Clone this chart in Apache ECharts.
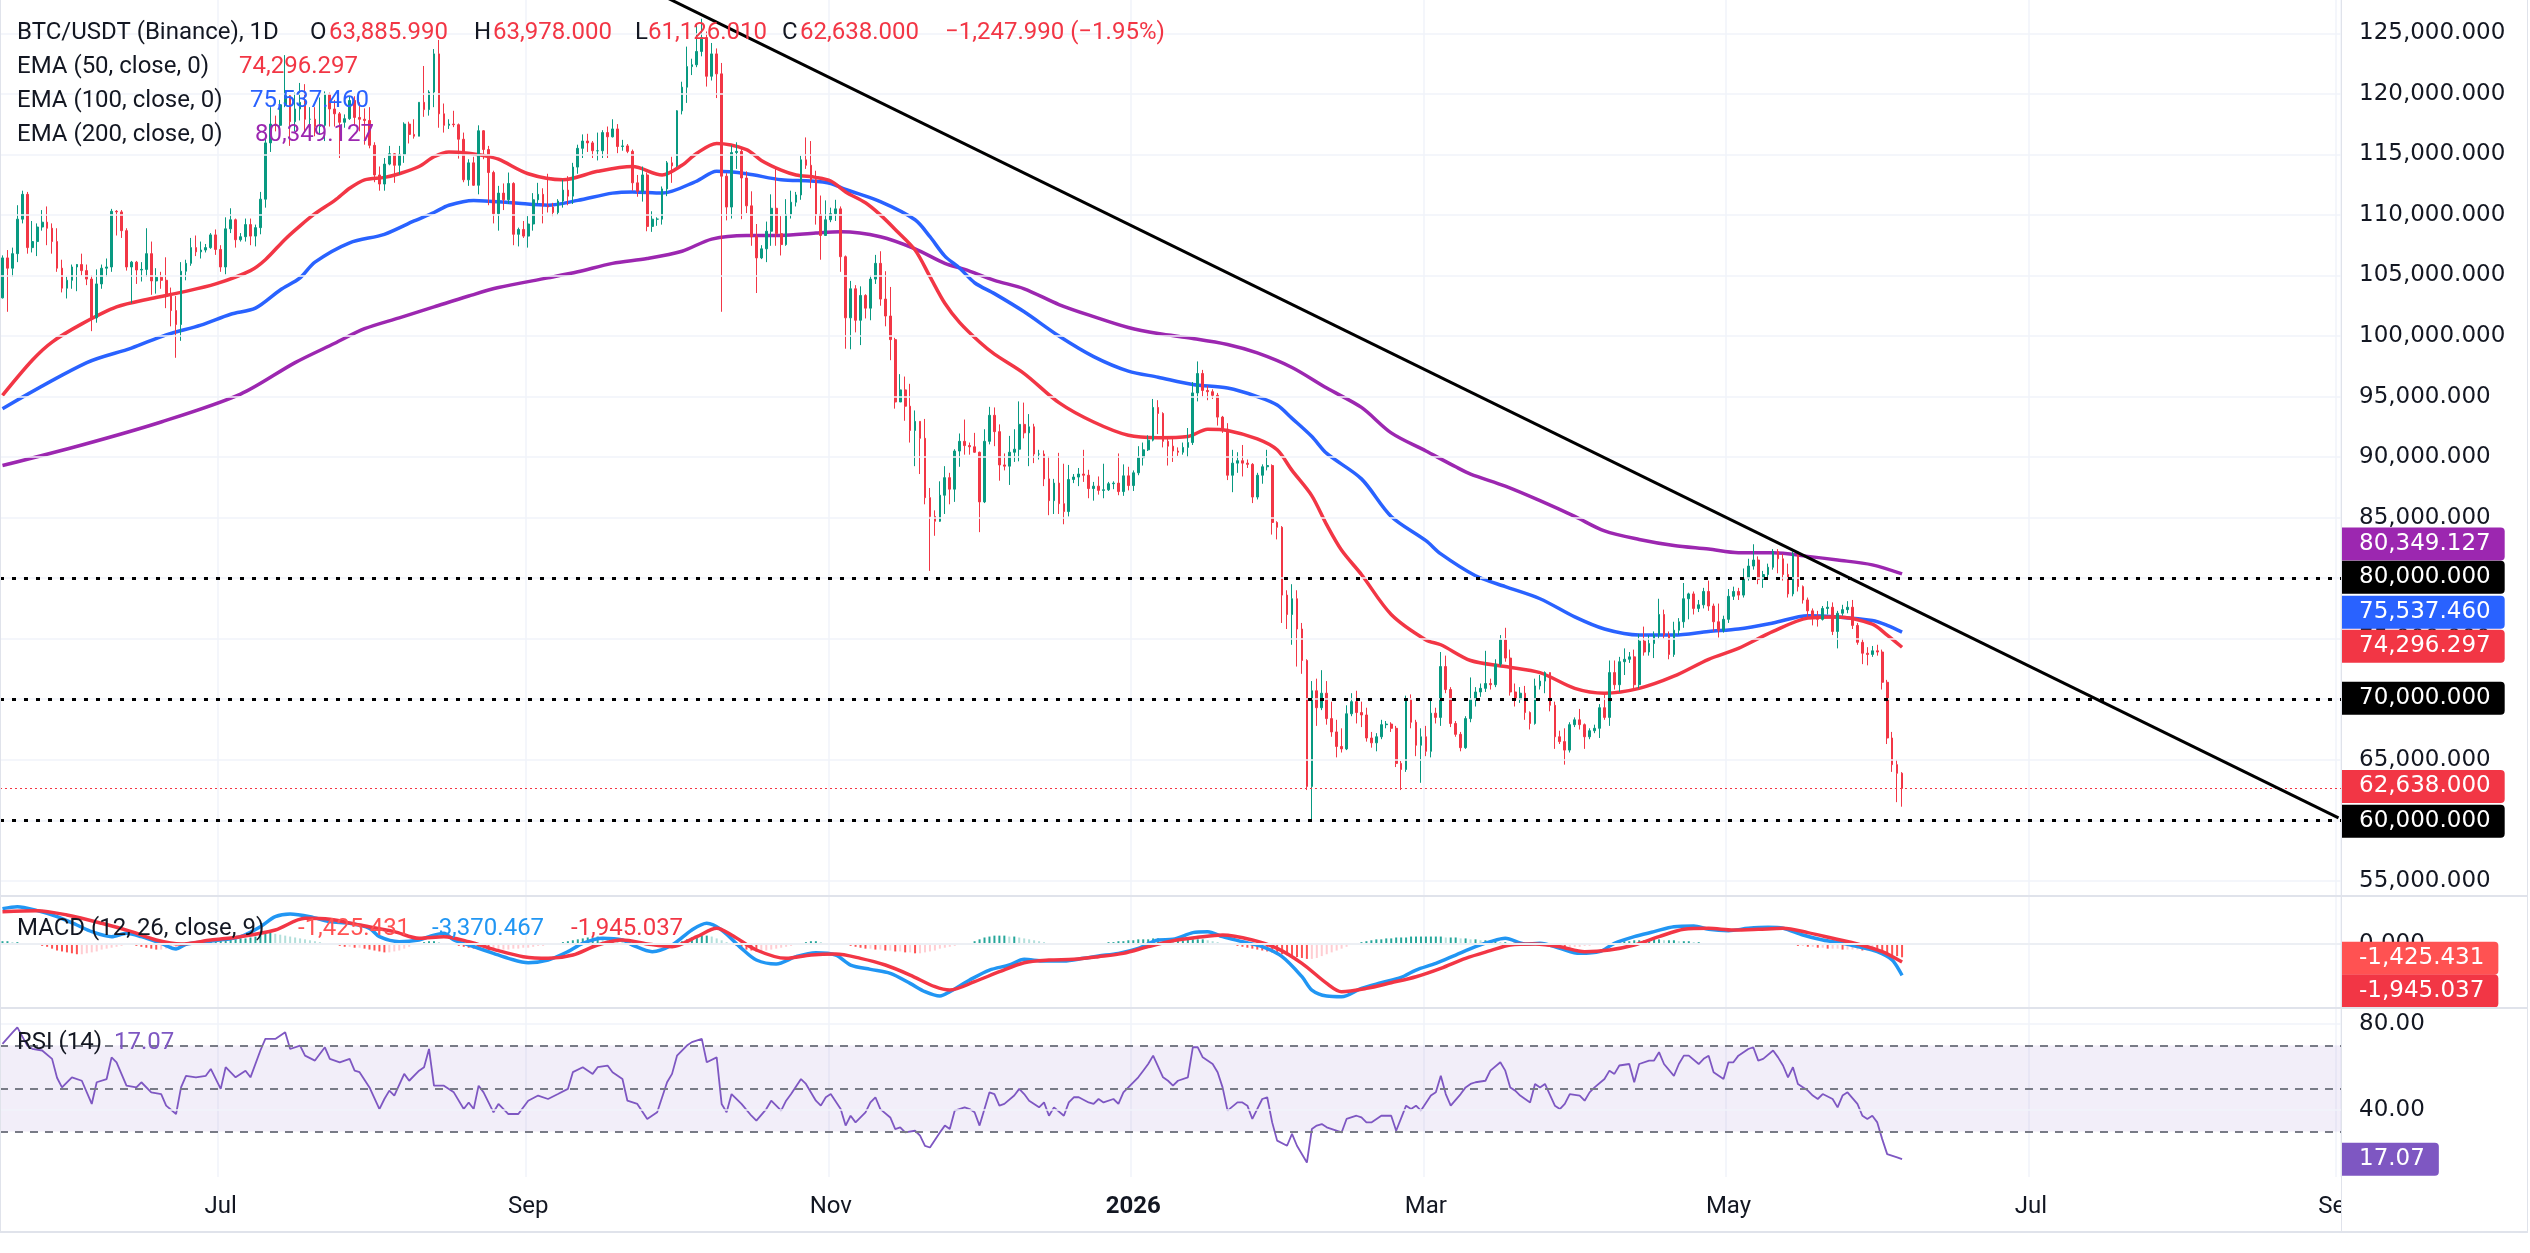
<!DOCTYPE html>
<html>
<head>
<meta charset="utf-8">
<title>BTC/USDT 1D</title>
<script src="https://cdn.jsdelivr.net/npm/echarts@6/dist/echarts.min.js"></script>
<style>
html,body{margin:0;padding:0;background:#ffffff;}
#chart{width:2530px;height:1253px;}
</style>
</head>
<body>
<div id="chart"></div>
<script>
// ---------------- data ----------------
var startDay = Date.UTC(2025, 4, 18);   // first daily candle
var dayCount = 472;                     // axis runs to 2026-09-01
var firstOpen = 103150;

var closes = [
106450,105600,106800,109650,111700,107300,107800,109000,109400,108900,107800,105600,103950,104600,
105700,105900,105400,104700,101500,104300,105600,105700,110300,110250,108700,105700,106100,105450,105500,106800,104550,104850,104600,103300,102100,100950,105350,106000,107300,106950,107100,107300,108350,107150,
105700,108850,109600,107950,108200,109200,108250,108950,111300,115950,117500,117400,119100,119850,117700,118750,119300,117900,117900,117300,117400,119950,118750,118350,117650,117950,119450,118050,117900,117800,115750,
113300,112550,114200,115050,114100,115000,117500,116650,116500,119300,118700,120150,123300,118350,117400,117500,117450,116250,112900,114300,112450,116950,115400,113500,110100,111800,111250,112600,108400,108800,108250,
109250,111250,111700,110750,110650,110200,111150,112050,111550,113950,115500,116100,115950,115300,115300,116800,116450,117100,115650,115700,115250,112650,111950,113300,109050,109650,109650,112150,114300,114050,
118600,120550,122250,122400,123500,124650,121450,123300,121650,113200,110650,115150,115250,113050,110750,108200,106450,107200,108650,110550,108450,107550,110050,111050,111650,114550,114100,112900,110050,108300,109600,
110100,110500,106550,101500,103900,101300,103350,102300,104700,106000,103050,101650,99700,94550,95550,94200,92200,92950,91550,86650,85100,84700,86850,88300,87350,90500,91300,90950,90850,90400,
86300,91300,93450,92100,89350,89250,90400,90650,92700,92000,92500,90250,90250,88200,86400,87850,86150,85500,88150,88350,88600,88500,87400,87600,87250,87300,87800,87850,87150,88450,87650,
88700,89950,90600,91400,94100,93600,91300,90900,90500,90400,90800,91200,95300,96900,95500,95400,95100,93300,92300,88500,89500,89700,89500,89400,86700,88500,89200,89300,84600,84200,78600,
77000,78300,75800,73200,62800,70700,69300,70500,68400,67300,66100,65900,68800,69800,68900,68700,66800,66400,66900,67900,67950,67600,64700,64200,70000,68100,66200,66900,
65700,68850,68500,72700,70800,68000,67100,66000,68400,70000,70600,70900,71300,71200,72900,74900,73400,70600,70000,70500,68900,68000,71100,71500,72200,69500,66900,66500,65800,67900,68300,
67900,66900,67400,67600,69300,68500,72200,71200,73100,73300,73500,71200,74800,73900,74600,75300,77000,75300,73700,75700,76400,78300,78700,77500,77800,78900,77700,76400,75700,76600,
78500,78900,78600,80000,81000,81500,79900,80300,80900,82200,81600,80300,78700,82000,79300,78200,77300,76700,76600,77500,77600,75600,77100,77400,77600,76100,74700,73800,73700,74000,73900,
71400,66800,64600,63885.99,62638
];
var highs = [
106660,107100,107300,110800,112000,111900,109500,109300,110400,110700,109300,108900,106300,104900,
105900,105950,106800,105900,105000,105500,105900,106400,110500,110400,110400,108900,106200,106200,106100,108900,107800,105600,105300,106500,104000,103300,106100,106300,108100,108300,107800,107600,108500,108800,
107500,109800,110550,109700,108500,109700,109700,109200,111900,116800,118900,118200,119500,123200,119900,120100,120900,120800,118900,118900,119700,120200,120100,119500,118500,118300,119800,119800,119300,118800,118900,
116000,114000,114700,115700,115100,115700,117650,117700,117900,119300,122300,120300,123700,124450,119200,117900,118600,117550,116800,114600,114800,117400,117000,115700,113650,112400,112600,113500,112700,108950,109500,
109900,111800,112650,112200,113400,111000,111300,112900,113200,114300,115800,116650,116700,116100,116800,117000,117300,117900,117500,116200,115850,115400,113300,114000,113500,110300,109800,112350,114450,114800,
118650,121000,123900,122900,125700,126200,125150,124200,123750,122550,113450,115750,116000,115450,113600,111950,109250,107500,109450,111700,114000,109900,111300,112000,111900,114900,116400,116100,113650,111600,111200,
110600,111250,110700,106650,104550,104200,104100,103450,105000,106700,107000,105350,104050,99850,96850,96650,96050,93850,92900,93150,87450,85600,88000,89250,88700,90650,91950,93100,91200,92000,
90450,92300,94150,94100,92700,90300,91750,92300,94600,94500,93550,92750,90600,90550,90050,88200,90350,89450,89350,88600,89100,90600,88950,87950,88400,89450,87950,88000,90300,89400,89200,
88900,90900,91200,91800,94800,94700,93700,91600,91500,90800,91200,92400,96200,97900,97200,95900,95600,95300,93400,92800,90600,90400,91000,89800,89500,88700,89400,90600,89400,84700,84300,
79000,79500,79000,76300,73300,71500,71700,72400,71500,69800,68300,67600,69500,70500,70700,69800,69300,67300,67200,68300,68200,68100,67800,64900,70300,70400,68300,67600,
67800,70100,69300,73900,73600,71000,68200,67300,68600,71800,71000,71300,74000,71700,73300,75300,75900,74100,71300,71000,71100,69000,71700,72000,72300,72000,69800,67400,67600,68100,68500,
69200,68000,67600,67900,69600,70600,73200,73200,73500,74200,73900,74100,75400,76000,75300,75600,78300,77400,75600,76400,76700,79600,78800,78900,78200,79200,79800,77900,77900,76900,
79100,79300,79200,80800,81600,82800,81800,80600,81200,82400,82400,82000,81200,82200,81600,79400,78400,77500,77300,77700,78100,78000,77300,77800,78100,78200,76300,75000,74300,74400,74500,
74100,71600,67300,65000,63978
];
var lows = [
103100,102000,104900,106100,109300,106800,106900,106600,108700,107500,106800,105300,103600,103100,
103900,103700,105000,104200,100400,101100,103900,104900,105300,108300,108100,105400,102700,104300,104500,104900,103400,103500,103900,102300,100800,98200,99600,104600,105800,106600,106400,106900,107200,106700,
105300,105100,108500,107300,107800,107800,107500,107400,108400,110600,115200,116900,117200,118900,115700,116900,117800,116800,117400,116500,116600,116100,117300,117300,114700,117200,117850,117400,116900,115800,115500,
112700,112000,112000,114100,112650,113350,114300,115900,116300,116500,118100,118200,118900,117200,116800,117100,117250,114650,112700,112400,112400,111700,114600,110800,109300,108700,110400,110900,107500,107400,108100,
107300,108700,110900,109300,110200,109900,110000,110600,110800,110900,113400,114700,115200,114700,114500,114700,114700,116400,115100,115300,115100,112000,111500,111100,108650,108600,109100,109200,111550,112650,
113950,118300,119250,121550,122200,123100,120600,121100,119650,102000,109550,109700,113800,109650,110150,107450,103550,106350,106100,107450,107450,106650,107450,109700,110700,111250,113800,112200,109200,106300,108600,
109400,109500,105300,98950,98900,100300,99250,101450,101300,104300,102500,100800,98000,94000,94550,93000,91200,89250,88600,86100,80600,83500,84650,85300,86100,86300,89200,90200,90200,90350,
83800,86200,91050,90900,88050,88900,87700,89600,89650,91550,89250,89500,89800,87600,85200,85300,85300,84450,85100,87850,87600,87950,86600,86400,86900,86600,87200,87350,86850,86800,87250,
87200,88500,89300,90500,91300,91900,90800,89300,89600,90100,90200,90000,91000,94600,95000,94700,94800,92600,92000,88100,87100,88700,88400,89100,86200,86500,87800,88900,83600,83200,76300,
75800,74500,72700,72100,62500,60000,67800,69100,67900,66900,65200,65600,65800,68600,68000,67700,66500,66000,65700,66700,67600,67300,64400,62500,64000,67600,65300,63100,
65300,65200,68000,67800,70500,67700,66900,65700,65900,68100,69400,70200,70600,70800,71000,72700,73100,70300,69400,69700,68300,67500,67900,70800,70500,69000,65900,66300,64600,65600,67700,
67500,65900,66700,67200,66800,68300,67800,70800,70600,72000,73000,70900,70900,73600,73600,73400,75000,75000,73300,73500,75300,75900,76600,77000,77200,77500,77300,75600,75100,75500,
76300,78200,78200,78400,79800,80700,79500,79200,80100,80700,80400,79800,78400,78500,78900,77900,76800,76100,76000,76500,77000,75300,74200,76900,77100,75800,74500,72900,72800,73500,73600,
70800,66300,64000,61500,61126.01
];

// EMA lines sampled along the curves: [day index, value]
var ema50Pts = [[0,95100],[6,98000],[10,99500],[16,101000],[23,102400],[30,103100],[36,103600],[43,104300],[50,105400],[53,106300],[57,108000],[60,109100],[63,110100],[67,111200],[70,112200],[73,112900],[77,113100],[80,113400],[84,114000],[87,114800],[90,115200],[94,115100],[97,114900],[100,114600],[106,113400],[113,112900],[120,113600],[127,114000],[133,113300],[137,114100],[140,115100],[144,115900],[150,115400],[153,114500],[157,113700],[160,113300],[164,113100],[167,112800],[170,111900],[174,111000],[177,110000],[180,108800],[184,107100],[187,104900],[190,102700],[193,101100],[197,99500],[200,98500],[206,96900],[213,94500],[220,92900],[227,91800],[233,91600],[239,91700],[243,92300],[247,92200],[253,91500],[257,90600],[260,88900],[264,86800],[267,84400],[270,82300],[274,80300],[280,77000],[287,74900],[290,74500],[296,73200],[303,72700],[310,72200],[317,70900],[323,70500],[330,70900],[337,71900],[344,73300],[350,74200],[357,75600],[364,76700],[370,76800],[377,76200],[380,75300],[383,74296.297]];
var ema100Pts = [[0,94000],[17,97800],[26,99000],[33,100100],[40,100900],[46,101800],[51,102300],[56,103800],[60,104800],[63,106100],[70,107700],[77,108400],[83,109500],[87,110200],[90,110800],[95,111200],[103,111000],[110,110800],[116,111200],[123,111800],[127,111900],[133,111800],[140,112800],[144,113600],[150,113400],[157,112900],[163,112800],[167,112600],[170,112100],[177,111100],[184,109600],[187,108200],[190,106600],[193,105600],[196,104400],[200,103500],[206,102000],[213,100000],[220,98300],[227,97100],[233,96600],[240,96000],[247,95700],[253,95000],[257,94300],[260,93200],[264,91700],[267,90300],[274,88200],[280,85100],[287,83100],[290,82000],[297,80200],[303,79300],[310,78300],[317,76800],[323,75800],[330,75300],[337,75300],[344,75600],[350,75800],[357,76300],[364,76900],[370,76800],[377,76500],[380,76100],[383,75537.46]];
var ema200Pts = [[0,89300],[16,91000],[32,92900],[48,95200],[59,97800],[67,99400],[73,100600],[80,101500],[87,102400],[94,103300],[100,104000],[110,104800],[116,105300],[123,106000],[130,106400],[137,107000],[143,108000],[150,108300],[157,108300],[164,108500],[169,108600],[177,108200],[184,107200],[190,106000],[194,105500],[200,104600],[206,103900],[213,102600],[220,101600],[227,100700],[233,100200],[240,99800],[247,99300],[253,98600],[260,97400],[267,95700],[274,94100],[280,92000],[287,90500],[293,89200],[296,88600],[303,87600],[310,86400],[317,85100],[323,83900],[330,83200],[337,82700],[344,82400],[350,82100],[357,82100],[364,81800],[370,81500],[377,81100],[383,80349.127]];

// trendline drawn from the October high, extended right
var trendPts = [[130, 128730], [471, 60200]];
var levelLines = [80000, 70000, 60000];
var priceTicks = [55000,60000,65000,70000,75000,80000,85000,90000,95000,100000,105000,110000,115000,120000,125000];

// MACD (12, 26, close, 9)
var macdPts = [[0,3800],[3,4014],[7,3584],[11,2939],[15,2043],[18,1326],[22,789],[25,1147],[28,789],[32,72],[35,-538],[37,-36],[41,251],[45,502],[48,789],[52,1864],[55,2939],[58,3226],[62,2939],[66,2401],[70,2222],[74,1685],[76,789],[80,251],[84,430],[86,789],[89,1147],[91,430],[95,-287],[99,-1004],[102,-1541],[106,-2007],[110,-1720],[114,-824],[117,72],[121,609],[125,430],[127,-108],[131,-824],[135,-108],[139,1505],[142,2222],[145,1505],[149,-466],[152,-1720],[156,-2150],[160,-1362],[164,-932],[168,-1183],[171,-2258],[175,-2724],[179,-3154],[183,-4229],[186,-5125],[189,-5591],[191,-5125],[195,-3871],[199,-2796],[203,-2258],[206,-1649],[210,-1828],[214,-1828],[218,-1541],[221,-1290],[225,-1004],[229,-466],[233,430],[236,502],[240,1219],[243,1326],[246,789],[250,251],[254,-287],[258,-1362],[262,-3513],[264,-4946],[267,-5591],[270,-5663],[274,-4767],[278,-4158],[282,-3584],[285,-2796],[289,-2079],[293,-1183],[297,-287],[300,251],[303,609],[307,0],[310,72],[314,-466],[318,-1004],[322,-824],[325,72],[329,789],[333,1326],[337,1864],[341,1935],[344,1577],[348,1434],[352,1685],[356,1792],[359,1685],[363,968],[367,430],[371,72],[374,-287],[378,-824],[381,-1720],[383,-3370.467]];
var signalPts = [[0,3477],[7,3584],[13,3118],[20,2222],[26,1326],[31,430],[36,0],[42,430],[48,789],[55,1505],[61,2760],[66,2652],[72,2043],[79,1326],[84,609],[89,789],[94,251],[100,-717],[105,-1362],[110,-1541],[115,-1183],[120,-108],[125,430],[130,0],[135,-287],[140,789],[144,1685],[147,968],[152,-645],[158,-1541],[163,-1183],[168,-1075],[173,-1541],[178,-2258],[183,-3333],[188,-4588],[191,-4946],[196,-4050],[201,-2975],[206,-2007],[211,-1720],[216,-1649],[221,-1362],[226,-1004],[231,-287],[236,358],[241,717],[246,968],[252,430],[257,-466],[262,-2079],[267,-4229],[270,-5125],[275,-4767],[280,-4158],[285,-3513],[290,-2616],[295,-1541],[300,-717],[304,-108],[309,0],[314,-287],[319,-824],[324,-645],[329,-108],[334,789],[339,1577],[344,1685],[349,1505],[354,1577],[359,1685],[364,1219],[369,609],[374,0],[379,-824],[383,-1945.037]];
// histogram, one bar per day, in hundreds
var histHundreds = [
3,3,2,2,1,1,0,-1,-2,-3,-5,
-7,-8,-9,-10,-11,-11,-10,-9,-8,-6,-5,-4,
-3,-2,-1,-1,-2,
-3,-4,-5,-6,-6,-5,-5,-4,
-2,0,1,2,3,3,4,4,5,5,5,5,6,6,7,
8,10,11,12,11,10,
9,8,7,6,5,4,3,2,
1,0,-1,-2,-3,-3,-4,-4,-5,-6,
-7,-8,-9,-9,-8,-7,-5,-3,
-1,1,2,3,3,2,1,0,
-1,-2,-3,-4,-5,-6,-6,-7,-7,-7,
-6,-6,-5,-5,-4,-4,-3,
-2,-2,-1,0,1,2,3,4,5,6,
7,7,8,7,6,6,5,4,
3,2,1,0,-1,
-2,-3,-3,-2,-1,1,
3,5,7,8,9,9,8,
6,4,2,0,-2,-4,-6,
-7,-8,-8,-7,-6,-5,-4,-3,-2,-1,
1,2,3,3,2,
1,0,0,-1,-1,-2,-3,
-4,-5,-5,-6,-6,-7,-7,-8,-8,-9,-9,-10,-10,-9,-8,-7,-5,-4,
-3,-2,-1,0,1,3,5,
7,8,9,9,9,8,8,7,6,5,
4,3,2,1,1,0,0,-1,-1,-1,0,0,1,1,1,2,2,3,
3,4,4,5,5,5,6,6,5,5,4,4,4,5,5,
5,5,4,3,2,1,0,
-1,-2,-3,-4,-5,-6,-7,-8,-9,-10,-11,-12,-13,-14,-15,-16,-16,-15,
-13,-11,-9,-7,-5,-3,-1,
1,2,3,4,5,5,6,6,7,7,7,8,8,8,8,
8,8,8,7,7,7,6,6,5,5,4,4,3,
3,2,2,1,1,0,0,
-1,-1,-2,-2,-3,-3,-3,-4,-4,-3,-3,-2,-2,-1,0,
1,1,2,2,3,3,4,4,4,5,5,5,4,4,4,3,3,3,
2,2,1,1,0,0,-1,-1,0,0,
0,1,1,1,0,0,0,-1,-1,-1,
-1,-2,-2,-3,-3,-4,-4,-5,-5,-5,-6,-6,-6,-6,-7,-7,-7,-8,-9,-10,-12,-13,-14.25431
];

// RSI (14)
var rsiPts = [[0,70.8],[2,76],[3,78.5],[5,70],[6,68.5],[8,67.7],[10,63.8],[11,55],[12,50.5],[14,55.2],[16,53.6],[18,42.8],[19,52.9],[21,54.4],[22,64.5],[23,62.2],[25,51.3],[27,50.5],[28,52.9],[30,48.2],[32,47.4],[33,42],[35,38.1],[36,50.5],[37,55.9],[39,55.2],[41,55.9],[42,59.1],[44,49.8],[45,59.9],[47,55.2],[49,58.3],[50,55.2],[52,67.7],[53,73.1],[55,73.1],[57,76.2],[58,68.4],[60,70],[61,65.3],[63,63],[65,69.2],[66,63.8],[68,62.2],[70,63.8],[71,58.3],[72,57.6],[74,50.5],[76,40.4],[77,45.1],[78,49],[79,46.7],[81,56.8],[82,53.6],[84,58.3],[85,59.9],[86,68.4],[87,51.3],[89,51.3],[91,48.2],[93,40.4],[94,43.5],[95,40.4],[96,51.3],[97,48.2],[99,38.9],[100,42.8],[102,38.1],[104,38.1],[106,44.3],[108,46.7],[110,45.1],[112,47.4],[114,49.8],[115,57.6],[117,59.9],[119,56.8],[120,59.9],[122,60.7],[123,57.6],[125,54.4],[126,44.3],[128,42.8],[130,35.8],[132,38.9],[134,52.9],[135,56.8],[136,65.3],[138,70],[139,71.6],[141,73.1],[142,62.2],[144,64.5],[145,42.8],[146,38.9],[147,47.4],[149,42.8],[151,37.3],[152,35],[154,40.4],[155,44.3],[157,39.7],[158,44.3],[159,47.4],[161,54.4],[162,52.1],[164,44.3],[165,42],[166,45.9],[167,47.4],[169,40.4],[170,32.7],[171,37.3],[172,34.2],[174,38.9],[175,43.5],[176,45.9],[177,40.4],[179,36.5],[180,31.1],[181,31.9],[182,29.5],[184,30.3],[185,28],[186,23.3],[187,22.5],[189,29.5],[190,32.7],[191,31.1],[192,39.7],[194,41.2],[195,40.4],[196,38.9],[197,32.7],[199,48.2],[200,47.4],[201,42],[202,42.8],[204,46.7],[205,49.8],[206,47.4],[207,44.3],[209,41.2],[210,43.5],[211,37.3],[212,41.2],[214,37.3],[215,43.5],[216,45.9],[217,45.9],[219,43.5],[220,42.8],[221,45.1],[222,43.5],[224,45.1],[225,42.8],[226,48.2],[227,50.5],[229,55.2],[230,58.3],[231,61.4],[232,65.3],[234,55.2],[235,53.6],[236,51.3],[237,53.6],[239,55.2],[240,69.2],[241,69.2],[242,64.5],[244,61.4],[245,57.6],[246,50.5],[247,39.7],[249,43.5],[250,43.5],[251,42],[252,35.8],[254,45.1],[255,45.9],[256,34.2],[257,25.7],[259,23.3],[260,28.8],[261,23.3],[263,15.5],[264,31.1],[265,32.7],[266,33.4],[267,31.9],[270,29.5],[271,35.8],[273,37.3],[274,36.5],[275,34.2],[276,34.2],[278,37.3],[280,37.3],[281,30.3],[283,42],[284,40.4],[285,42],[286,39.7],[288,46.7],[289,48.2],[290,55.9],[291,47.4],[292,42],[294,47.4],[295,50.5],[296,52.1],[297,52.9],[299,53.6],[300,58.3],[302,62.2],[303,58.3],[304,50.5],[305,49],[306,46.7],[308,43.5],[309,52.1],[310,50.5],[311,52.1],[313,42],[314,40.4],[315,42.8],[316,47.4],[318,46.7],[319,44.3],[320,48.2],[321,50.5],[323,54.4],[324,58.3],[325,56.8],[326,60.7],[328,61.4],[329,52.9],[330,61.4],[332,63],[333,63],[334,66.9],[335,61.4],[337,55.9],[338,61.4],[339,65.3],[340,65.3],[342,61.4],[343,63.8],[344,65.3],[345,57.6],[347,54.4],[348,62.2],[349,62.2],[350,65.3],[352,68.4],[353,69.2],[354,63],[355,63.8],[357,67.7],[358,64.5],[359,60.7],[360,55.2],[361,59.9],[362,52.1],[364,49],[365,46.7],[366,45.1],[367,47.4],[369,45.1],[370,41.2],[371,46.7],[372,48.2],[374,42.8],[375,37.3],[376,35.8],[377,37.3],[378,34.2],[379,26.4],[380,19.4],[382,17.9],[383,17.07]];
var rsiLevels = [70, 50, 30];
var rsiTicks = [80, 40];

// ---------------- helpers ----------------
var UP = '#089981', DOWN = '#f23645', INK = '#131722';
var monthNames = ['Jan','Feb','Mar','Apr','May','Jun','Jul','Aug','Sep','Oct','Nov','Dec'];

function fmt(v, d) {
  var s = Math.abs(v).toFixed(d).split('.');
  s[0] = s[0].replace(/\B(?=(\d{3})+(?!\d))/g, ',');
  return (v < 0 ? '-' : '') + s.join('.');
}
function lastOf(pts) { return pts[pts.length - 1][1]; }

var dates = [];
for (var i = 0; i < dayCount; i++) {
  dates.push(new Date(startDay + i * 86400000).toISOString().slice(0, 10));
}
function isTick(index, value) {
  var m = +value.slice(5, 7);
  return value.slice(8) === '01' && m % 2 === 1;
}

var candles = [];
for (var i = 0; i < closes.length; i++) {
  var o = i === 0 ? firstOpen : closes[i - 1];
  var c = closes[i];
  candles.push([o, c, Math.min(lows[i], o, c), Math.max(highs[i], o, c)]);
}

var histItems = [];
for (var i = 0; i < histHundreds.length; i++) {
  var v = histHundreds[i] * 100;
  var p = i > 0 ? histHundreds[i - 1] * 100 : v;
  var col = v >= 0 ? (v >= p ? '#26a69a' : '#b2dfdb') : (v < p ? '#ff5252' : '#ffcdd2');
  histItems.push({ value: v, itemStyle: { color: col } });
}

// price tag on the right scale (TradingView style)
function tag(text, bg, dy) {
  return {
    show: true, position: 'end', distance: 1, formatter: text,
    color: '#ffffff', backgroundColor: bg, padding: [5, 14, 5, 17],
    fontSize: 23, fontFamily: 'DejaVu Sans', lineHeight: 23,
    borderRadius: [0, 4, 4, 0], offset: [0, dy]
  };
}
// invisible line that only carries a tag
function hidden() { return { color: 'rgba(0,0,0,0)', width: 1, type: 'solid' }; }

var last = candles[candles.length - 1];
var chg = last[1] - last[0];
var pct = chg / last[0] * 100;

// ---------------- legends ----------------
var F = '24px Roboto';
function txt(x, y, s, color) {
  return { type: 'text', x: x, y: y, z: 50, silent: true,
    style: { text: s, fill: color, font: F, verticalAlign: 'middle' } };
}
var legend = [
  txt(17, 33, 'BTC/USDT (Binance), 1D', INK),
  txt(310, 33, 'O', INK), txt(329, 33, fmt(last[0], 3), DOWN),
  txt(474, 33, 'H', INK), txt(493, 33, fmt(last[3], 3), DOWN),
  txt(635, 33, 'L', INK), txt(648, 33, fmt(last[2], 3), DOWN),
  txt(782, 33, 'C', INK), txt(800, 33, fmt(last[1], 3), DOWN),
  txt(945, 33, '\u2212' + fmt(-chg, 3) + ' (\u2212' + (-pct).toFixed(2) + '%)', DOWN),
  txt(17, 67, 'EMA (50, close, 0)', INK), txt(239, 67, fmt(lastOf(ema50Pts), 3), '#f23645'),
  txt(17, 101, 'EMA (100, close, 0)', INK), txt(250, 101, fmt(lastOf(ema100Pts), 3), '#2962ff'),
  txt(17, 135, 'EMA (200, close, 0)', INK), txt(255, 135, fmt(lastOf(ema200Pts), 3), '#9c27b0'),
  txt(17, 929, 'MACD (12, 26, close, 9)', INK),
  txt(298, 929, fmt(histHundreds[histHundreds.length - 1] * 100, 3), '#ff5252'),
  txt(432, 929, fmt(lastOf(macdPts), 3), '#2196f3'),
  txt(571, 929, fmt(lastOf(signalPts), 3), '#f23645'),
  txt(17, 1043, 'RSI (14)', INK), txt(114, 1043, lastOf(rsiPts).toFixed(2), '#7e57c2')
];

function hline(y, x1, x2, w) {
  return { type: 'line', z: 45, silent: true, shape: { x1: x1, y1: y, x2: x2, y2: y },
    style: { stroke: '#e0e3eb', lineWidth: w } };
}
function vline(x, y1, y2, w) {
  return { type: 'line', z: 45, silent: true, shape: { x1: x, y1: y1, x2: x, y2: y2 },
    style: { stroke: '#e0e3eb', lineWidth: w } };
}
var frame = [
  { type: 'rect', z: 40, silent: true, shape: { x: 2342, y: 1179, width: 185, height: 52 }, style: { fill: '#ffffff' } },
  hline(896, 0, 2528, 2), hline(1008, 0, 2528, 2), hline(1232, 0, 2528, 2),
  vline(2341.5, 0, 1232, 1), vline(0.5, 0, 1232, 1), vline(2527.5, 0, 1232, 1)
];

// ---------------- chart ----------------
var myChart = echarts.init(document.getElementById('chart'), null, { renderer: 'canvas' });

function xAxisFor(k) {
  return {
    type: 'category', gridIndex: k, data: dates, boundaryGap: true,
    axisLine: { show: false }, axisTick: { show: false },
    axisLabel: k === 2 ? {
      show: true, interval: isTick, margin: 18, color: INK, fontFamily: 'Roboto', fontSize: 24,
      formatter: function (v) {
        var m = +v.slice(5, 7);
        return m === 1 ? '{y|' + v.slice(0, 4) + '}' : monthNames[m - 1];
      },
      rich: { y: { fontWeight: 'bold', fontFamily: 'Roboto', fontSize: 24, color: INK } }
    } : { show: false },
    splitLine: { show: true, interval: isTick, lineStyle: { color: '#f0f3fa', width: 1.5 } }
  };
}
var axisLabelBase = { color: INK, fontFamily: 'DejaVu Sans', fontSize: 23, margin: 18 };

var option = {
  animation: false,
  backgroundColor: '#ffffff',
  grid: [
    { left: 0, top: 0, width: 2341, height: 896, outerBoundsMode: 'none' },
    { left: 0, top: 896, width: 2341, height: 112, outerBoundsMode: 'none' },
    { left: 0, top: 1008, width: 2341, height: 169, outerBoundsMode: 'none' }
  ],
  xAxis: [xAxisFor(0), xAxisFor(1), xAxisFor(2)],
  yAxis: [
    { type: 'value', gridIndex: 0, position: 'right', min: 53750, max: 127750, interval: 1250,
      axisLine: { show: false }, axisTick: { show: false }, splitLine: { show: false },
      axisLabel: Object.assign({}, axisLabelBase, {
        formatter: function (v) { return (v % 5000 === 0 && v >= 55000 && v <= 125000) ? fmt(v, 3) : ''; } }) },
    { type: 'value', gridIndex: 1, position: 'right', min: -6875, max: 5156.25, interval: 6875,
      axisLine: { show: false }, axisTick: { show: false }, splitLine: { show: false },
      axisLabel: Object.assign({}, axisLabelBase, {
        formatter: function (v) { return v === 0 ? '0.000' : ''; } }) },
    { type: 'value', gridIndex: 2, position: 'right', min: 8.75, max: 87.5, interval: 1.25,
      axisLine: { show: false }, axisTick: { show: false }, splitLine: { show: false },
      axisLabel: Object.assign({}, axisLabelBase, {
        formatter: function (v) { return rsiTicks.indexOf(v) >= 0 ? v.toFixed(2) : ''; } }) }
  ],
  graphic: { elements: frame.concat(legend) },
  series: [
    // horizontal price grid
    { type: 'line', xAxisIndex: 0, yAxisIndex: 0, data: [], silent: true, z: 0,
      markLine: { symbol: ['none', 'none'], silent: true, animation: false, label: { show: false },
        lineStyle: { color: '#f0f3fa', width: 1.5, type: 'solid' },
        data: priceTicks.map(function (v) { return { yAxis: v }; }) } },
    { type: 'line', xAxisIndex: 0, yAxisIndex: 0, data: ema200Pts, smooth: 0.3, symbol: 'none', z: 3,
      lineStyle: { color: '#9c27b0', width: 3.5 },
      markLine: { symbol: ['none', 'none'], silent: true, animation: false,
        data: [{ yAxis: lastOf(ema200Pts), lineStyle: hidden(), label: tag(fmt(lastOf(ema200Pts), 3), '#9c27b0', -30) }] } },
    { type: 'line', xAxisIndex: 0, yAxisIndex: 0, data: ema100Pts, smooth: 0.3, symbol: 'none', z: 3,
      lineStyle: { color: '#2962ff', width: 3.5 },
      markLine: { symbol: ['none', 'none'], silent: true, animation: false,
        data: [{ yAxis: lastOf(ema100Pts), lineStyle: hidden(), label: tag(fmt(lastOf(ema100Pts), 3), '#2962ff', -20) }] } },
    { type: 'line', xAxisIndex: 0, yAxisIndex: 0, data: ema50Pts, smooth: 0.3, symbol: 'none', z: 3,
      lineStyle: { color: '#f23645', width: 3.5 },
      markLine: { symbol: ['none', 'none'], silent: true, animation: false,
        data: [{ yAxis: lastOf(ema50Pts), lineStyle: hidden(), label: tag(fmt(lastOf(ema50Pts), 3), '#f23645', -1) }] } },
    { type: 'candlestick', xAxisIndex: 0, yAxisIndex: 0, data: candles, barWidth: 2.2, z: 4,
      itemStyle: { color: UP, color0: DOWN, borderColor: UP, borderColor0: DOWN, borderWidth: 1 },
      markLine: { symbol: ['none', 'none'], silent: true, animation: false, label: { show: false },
        data: levelLines.map(function (v) {
          return { yAxis: v, lineStyle: { color: '#000000', width: 3, type: [4, 8] }, label: tag(fmt(v, 3), '#000000', v === 60000 ? 1 : -1) };
        }).concat([{ yAxis: last[1], lineStyle: { color: DOWN, width: 1.2, type: [2, 3] }, label: tag(fmt(last[1], 3), DOWN, -2) }]) } },
    { type: 'line', xAxisIndex: 0, yAxisIndex: 0, data: trendPts, symbol: 'none', z: 6,
      lineStyle: { color: '#000000', width: 3 } },

    // MACD pane
    { type: 'bar', xAxisIndex: 1, yAxisIndex: 1, data: histItems, barWidth: 2, z: 2,
      markLine: { symbol: ['none', 'none'], silent: true, animation: false, label: { show: false },
        data: [
          { yAxis: 0, lineStyle: { color: '#eceff4', width: 2, type: 'solid' } },
          { yAxis: histHundreds[histHundreds.length - 1] * 100, lineStyle: hidden(),
            label: tag(fmt(histHundreds[histHundreds.length - 1] * 100, 3), '#ff5252', 1) }
        ] } },
    { type: 'line', xAxisIndex: 1, yAxisIndex: 1, data: macdPts, smooth: 0.3, symbol: 'none', z: 3,
      lineStyle: { color: '#2196f3', width: 3.5 } },
    { type: 'line', xAxisIndex: 1, yAxisIndex: 1, data: signalPts, smooth: 0.3, symbol: 'none', z: 4,
      lineStyle: { color: '#f23645', width: 3.5 },
      markLine: { symbol: ['none', 'none'], silent: true, animation: false,
        data: [{ yAxis: lastOf(signalPts), lineStyle: hidden(), label: tag(fmt(lastOf(signalPts), 3), '#f23645', 29) }] } },

    // RSI pane
    { type: 'line', xAxisIndex: 2, yAxisIndex: 2, data: rsiPts, symbol: 'none', z: 4,
      lineStyle: { color: '#7e57c2', width: 1.8 },
      markArea: { silent: true, itemStyle: { color: 'rgba(126,87,194,0.1)' },
        data: [[{ yAxis: rsiLevels[2] }, { yAxis: rsiLevels[0] }]] },
      markLine: { symbol: ['none', 'none'], silent: true, animation: false, label: { show: false },
        data: rsiTicks.map(function (v) {
          return { yAxis: v, lineStyle: { color: '#f0f3fa', width: 1.5, type: 'solid' } };
        }).concat(rsiLevels.map(function (v) {
          return { yAxis: v, lineStyle: { color: '#787b86', width: 2, type: [8, 7] } };
        })).concat([{ yAxis: lastOf(rsiPts), lineStyle: hidden(),
          label: tag(lastOf(rsiPts).toFixed(2), '#7e57c2', 0) }]) } }
  ]
};
myChart.setOption(option);
</script>
</body>
</html>
